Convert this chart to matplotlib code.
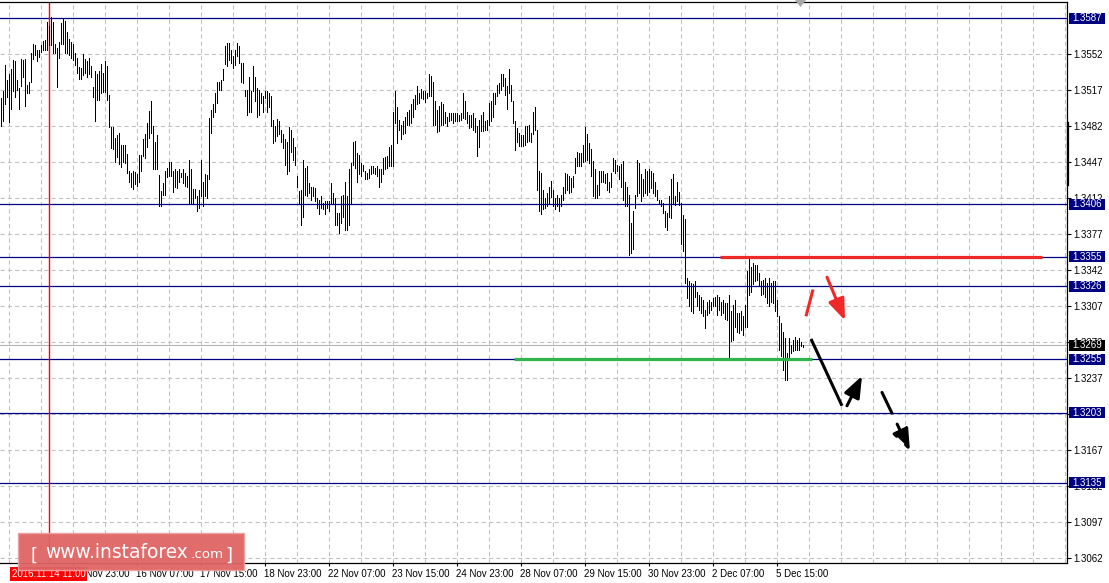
import numpy as np
import matplotlib.pyplot as plt
from matplotlib.patches import Rectangle, FancyArrowPatch, FancyBboxPatch, Polygon
from matplotlib.lines import Line2D
from matplotlib.transforms import blended_transform_factory

plt.rcParams['font.family'] = ['Liberation Sans', 'DejaVu Sans']

# H1 bar highs / lows (oldest first)
highs = [
    1.3509, 1.3516, 1.3541, 1.3527, 1.3533, 1.3537, 1.3546, 1.3545, 1.3527, 1.3519,
    1.3547, 1.3546, 1.3547, 1.3522, 1.3525, 1.3553, 1.3562, 1.3561, 1.3556, 1.3556,
    1.3561, 1.3565, 1.3566, 1.3583, 1.3579, 1.3588, 1.3583, 1.3562, 1.3558, 1.3564,
    1.3582, 1.3586, 1.3584, 1.3573, 1.3567, 1.3564, 1.3562, 1.3553, 1.3548, 1.3539,
    1.3538, 1.3552, 1.3547, 1.3545, 1.3548, 1.3540, 1.3520, 1.3535, 1.3533, 1.3535,
    1.3542, 1.3534, 1.3545, 1.3540, 1.3512, 1.3481, 1.3481, 1.3470, 1.3473, 1.3475,
    1.3464, 1.3464, 1.3464, 1.3455, 1.3438, 1.3436, 1.3438, 1.3437,
    1.3435, 1.3454, 1.3454, 1.3469, 1.3474, 1.3485, 1.3497, 1.3506, 1.3482, 1.3466,
    1.3473, 1.3434, 1.3419, 1.3427, 1.3438, 1.3441, 1.3447, 1.3447, 1.3438, 1.3440,
    1.3438, 1.3440, 1.3436, 1.3440, 1.3436, 1.3433, 1.3449, 1.3440, 1.3421, 1.3421,
    1.3414, 1.3420, 1.3449, 1.3428, 1.3435, 1.3434, 1.3490, 1.3498, 1.3503, 1.3514,
    1.3525, 1.3525, 1.3527, 1.3537, 1.3560, 1.3563, 1.3563, 1.3556, 1.3550, 1.3556,
    1.3563, 1.3560, 1.3543, 1.3543, 1.3517, 1.3517, 1.3530, 1.3516, 1.3540, 1.3530,
    1.3519, 1.3517, 1.3514, 1.3511, 1.3516, 1.3516, 1.3514,
    1.3511, 1.3488, 1.3482, 1.3489, 1.3487, 1.3478, 1.3474, 1.3469, 1.3466, 1.3481,
    1.3478, 1.3470, 1.3462, 1.3433, 1.3419, 1.3420, 1.3449, 1.3441, 1.3443, 1.3427,
    1.3423, 1.3423, 1.3422, 1.3412, 1.3410, 1.3414, 1.3407, 1.3409, 1.3409, 1.3409,
    1.3427, 1.3417, 1.3412, 1.3397, 1.3397, 1.3414, 1.3415, 1.3428, 1.3414, 1.3440,
    1.3446, 1.3466, 1.3467, 1.3456, 1.3454, 1.3446, 1.3444, 1.3438, 1.3436, 1.3440,
    1.3443, 1.3443, 1.3441, 1.3443, 1.3440, 1.3440, 1.3451, 1.3452, 1.3453, 1.3462,
    1.3464, 1.3496, 1.3516, 1.3500, 1.3488, 1.3483, 1.3487,
    1.3491, 1.3496, 1.3498, 1.3503, 1.3508, 1.3512, 1.3521, 1.3514, 1.3518, 1.3516,
    1.3516, 1.3514, 1.3533, 1.3531, 1.3525, 1.3506, 1.3498, 1.3501, 1.3505, 1.3503,
    1.3496, 1.3491, 1.3495, 1.3495, 1.3495, 1.3495, 1.3495, 1.3493, 1.3495, 1.3514,
    1.3506, 1.3496, 1.3493, 1.3493, 1.3495, 1.3490, 1.3482, 1.3488, 1.3493, 1.3496,
    1.3487, 1.3488, 1.3504, 1.3506, 1.3514, 1.3514, 1.3522, 1.3524, 1.3533, 1.3533,
    1.3529, 1.3521, 1.3537, 1.3522, 1.3506, 1.3487, 1.3480, 1.3475, 1.3473, 1.3473,
    1.3482, 1.3482, 1.3483, 1.3475, 1.3496, 1.3500, 1.3478,
    1.3438, 1.3436, 1.3420, 1.3412, 1.3417, 1.3423, 1.3429, 1.3420, 1.3412, 1.3415,
    1.3412, 1.3415, 1.3423, 1.3436, 1.3435, 1.3433, 1.3431, 1.3433, 1.3451, 1.3457,
    1.3456, 1.3456, 1.3464, 1.3481, 1.3474, 1.3465, 1.3460, 1.3448, 1.3440, 1.3425,
    1.3438, 1.3438, 1.3438, 1.3435, 1.3436, 1.3428, 1.3436, 1.3451, 1.3449, 1.3444,
    1.3443, 1.3445, 1.3448, 1.3428, 1.3423, 1.3415, 1.3388, 1.3399, 1.3415, 1.3449,
    1.3446, 1.3435, 1.3430, 1.3440, 1.3438, 1.3440, 1.3438, 1.3436, 1.3428, 1.3420,
    1.3410, 1.3410, 1.3407, 1.3399, 1.3397, 1.3414, 1.3430,
    1.3435, 1.3414, 1.3428, 1.3418, 1.3407, 1.3395, 1.3392, 1.3334, 1.3331, 1.3329,
    1.3328, 1.3331, 1.3321, 1.3318, 1.3316, 1.3313, 1.3303, 1.3311, 1.3313, 1.3311,
    1.3315, 1.3316, 1.3318, 1.3316, 1.3311, 1.3313, 1.3310, 1.3310, 1.3318, 1.3302,
    1.3308, 1.3313, 1.3300, 1.3300, 1.3302, 1.3297, 1.3308, 1.3341, 1.3355, 1.3345,
    1.3349, 1.3347, 1.3347, 1.3339, 1.3331, 1.3332, 1.3334, 1.3329, 1.3334, 1.3329,
    1.3331, 1.3331, 1.3313, 1.3297, 1.3290, 1.3282, 1.3276, 1.3261, 1.3276, 1.3269,
    1.3274, 1.3277, 1.3274, 1.3276, 1.3272, 1.3269,
]
lows = [
    1.3482, 1.3487, 1.3503, 1.3510, 1.3486, 1.3499, 1.3516, 1.3510, 1.3517, 1.3499,
    1.3521, 1.3530, 1.3501, 1.3514, 1.3514, 1.3525, 1.3547, 1.3551, 1.3545, 1.3549,
    1.3554, 1.3556, 1.3556, 1.3556, 1.3561, 1.3561, 1.3553, 1.3553, 1.3520, 1.3548,
    1.3562, 1.3562, 1.3553, 1.3553, 1.3551, 1.3548, 1.3546, 1.3541, 1.3534, 1.3528,
    1.3528, 1.3532, 1.3534, 1.3530, 1.3533, 1.3530, 1.3510, 1.3487, 1.3507, 1.3507,
    1.3514, 1.3515, 1.3515, 1.3507, 1.3481, 1.3461, 1.3460, 1.3447, 1.3452, 1.3445,
    1.3442, 1.3447, 1.3446, 1.3436, 1.3428, 1.3423, 1.3421, 1.3426,
    1.3424, 1.3428, 1.3438, 1.3453, 1.3451, 1.3462, 1.3470, 1.3475, 1.3440, 1.3440,
    1.3440, 1.3404, 1.3404, 1.3415, 1.3415, 1.3432, 1.3433, 1.3433, 1.3418, 1.3423,
    1.3422, 1.3428, 1.3432, 1.3427, 1.3424, 1.3423, 1.3407, 1.3407, 1.3407, 1.3412,
    1.3399, 1.3402, 1.3414, 1.3404, 1.3414, 1.3412, 1.3430, 1.3475, 1.3491, 1.3496,
    1.3504, 1.3517, 1.3517, 1.3527, 1.3542, 1.3540, 1.3546, 1.3543, 1.3538, 1.3541,
    1.3550, 1.3543, 1.3525, 1.3524, 1.3511, 1.3493, 1.3496, 1.3496, 1.3516, 1.3506,
    1.3491, 1.3493, 1.3504, 1.3496, 1.3509, 1.3496, 1.3500,
    1.3482, 1.3465, 1.3467, 1.3472, 1.3474, 1.3466, 1.3461, 1.3444, 1.3435, 1.3438,
    1.3457, 1.3449, 1.3444, 1.3423, 1.3407, 1.3386, 1.3394, 1.3415, 1.3414, 1.3417,
    1.3410, 1.3414, 1.3409, 1.3402, 1.3396, 1.3402, 1.3401, 1.3396, 1.3402, 1.3399,
    1.3406, 1.3406, 1.3386, 1.3386, 1.3378, 1.3388, 1.3394, 1.3381, 1.3381, 1.3386,
    1.3406, 1.3444, 1.3441, 1.3428, 1.3435, 1.3433, 1.3438, 1.3430, 1.3430, 1.3431,
    1.3435, 1.3436, 1.3435, 1.3433, 1.3423, 1.3428, 1.3435, 1.3440, 1.3441, 1.3443,
    1.3443, 1.3443, 1.3485, 1.3465, 1.3478, 1.3469, 1.3474,
    1.3475, 1.3483, 1.3483, 1.3485, 1.3491, 1.3499, 1.3503, 1.3504, 1.3509, 1.3508,
    1.3505, 1.3509, 1.3511, 1.3511, 1.3483, 1.3483, 1.3476, 1.3477, 1.3483, 1.3483,
    1.3485, 1.3482, 1.3487, 1.3488, 1.3485, 1.3487, 1.3487, 1.3487, 1.3488, 1.3490,
    1.3489, 1.3485, 1.3480, 1.3481, 1.3478, 1.3476, 1.3453, 1.3462, 1.3477, 1.3477,
    1.3478, 1.3478, 1.3483, 1.3487, 1.3491, 1.3503, 1.3511, 1.3514, 1.3517, 1.3521,
    1.3512, 1.3499, 1.3514, 1.3506, 1.3485, 1.3459, 1.3466, 1.3463, 1.3463, 1.3463,
    1.3464, 1.3466, 1.3467, 1.3466, 1.3474, 1.3478, 1.3420,
    1.3399, 1.3396, 1.3401, 1.3402, 1.3404, 1.3407, 1.3413, 1.3404, 1.3401, 1.3404,
    1.3399, 1.3404, 1.3410, 1.3417, 1.3420, 1.3417, 1.3418, 1.3423, 1.3436, 1.3443,
    1.3443, 1.3443, 1.3447, 1.3448, 1.3449, 1.3446, 1.3433, 1.3414, 1.3412, 1.3412,
    1.3415, 1.3428, 1.3428, 1.3427, 1.3420, 1.3418, 1.3423, 1.3438, 1.3436, 1.3438,
    1.3430, 1.3423, 1.3410, 1.3404, 1.3404, 1.3357, 1.3359, 1.3362, 1.3402, 1.3414,
    1.3417, 1.3409, 1.3414, 1.3417, 1.3415, 1.3418, 1.3422, 1.3417, 1.3414, 1.3410,
    1.3406, 1.3404, 1.3397, 1.3384, 1.3381, 1.3394, 1.3393,
    1.3407, 1.3405, 1.3409, 1.3405, 1.3367, 1.3360, 1.3329, 1.3315, 1.3307, 1.3302,
    1.3300, 1.3316, 1.3307, 1.3303, 1.3300, 1.3297, 1.3286, 1.3298, 1.3300, 1.3303,
    1.3307, 1.3307, 1.3298, 1.3303, 1.3298, 1.3300, 1.3294, 1.3293, 1.3255, 1.3273,
    1.3274, 1.3287, 1.3282, 1.3281, 1.3284, 1.3279, 1.3287, 1.3287, 1.3318, 1.3321,
    1.3328, 1.3331, 1.3332, 1.3326, 1.3318, 1.3319, 1.3316, 1.3310, 1.3307, 1.3311,
    1.3310, 1.3302, 1.3297, 1.3264, 1.3258, 1.3245, 1.3235, 1.3235, 1.3255, 1.3261,
    1.3263, 1.3264, 1.3264, 1.3264, 1.3268, 1.3267,
]

levels = [1.3587, 1.3406, 1.3355, 1.3326, 1.3255, 1.3203, 1.3135]
bid = 1.3269
price_ticks = [1.3552, 1.3517, 1.3482, 1.3447, 1.3412, 1.3377, 1.3342, 1.3307,
               1.3272, 1.3237, 1.3202, 1.3167, 1.3132, 1.3097, 1.3062]
time_bars = [36, 68, 100, 132, 164, 196, 228, 260, 292, 324, 356, 388]
time_labels = ["14 Nov 23:00", "16 Nov 07:00", "17 Nov 15:00", "18 Nov 23:00",
               "22 Nov 07:00", "23 Nov 15:00", "24 Nov 23:00", "28 Nov 07:00",
               "29 Nov 15:00", "30 Nov 23:00", "2 Dec 07:00", "5 Dec 15:00"]
marker_bar = 24
marker_label = "2016.11.14 11:00"

# drawn objects: [x0, x1, price] and [x0, p0, x1, p1]
resistance = [359.75, 520.75, 1.3355]
support = [256.75, 405.75, 1.3255]
red_stroke = [402.75, 1.3297, 406.25, 1.3323]
red_arrow = [413.25, 1.3335, 422.25, 1.3293]
black_stroke = [405.25, 1.3275, 420.75, 1.3210]
black_arrow = [423.25, 1.3210, 430.75, 1.3239]
dash_arrow = [440.75, 1.3223, 454.75, 1.3166]

W, H = 1109, 583
fig = plt.figure(figsize=(W / 100, H / 100), dpi=100)
ax = fig.add_axes([0, 20 / H, 1067 / W, 561 / H])
ax.set_xlim(-0.25, 533.25)
ax.set_ylim(1.305714, 1.360256)
py = (1.360256 - 1.305714) / 561

# grid
for p in price_ticks + [1.3587]:
    ax.axhline(p, color='#c0c0c0', lw=0.75, ls=(0, (4, 3)), zorder=0.5)
for b in range(4, 534, 16):
    ax.axvline(b, color='#c0c0c0', lw=0.75, ls=(0, (4, 3)), zorder=0.5)

# bars
x = np.arange(len(highs))
ax.vlines(x, lows, highs, color='black', lw=0.7, antialiased=False, zorder=2)

for lv in levels:
    ax.axhline(lv, color='#000080', lw=0.9, zorder=1)
ax.axhline(bid, color='#b4b4b4', lw=0.8, zorder=1)
ax.axvline(marker_bar, color='red', lw=1, zorder=1.5)

# support / resistance and arrows
ax.plot(resistance[:2], [resistance[2]] * 2, color='#f02828', lw=2.3,
        solid_capstyle='butt', zorder=3)
ax.plot(support[:2], [support[2]] * 2, color='#2fb34a', lw=2.3,
        solid_capstyle='butt', zorder=3)
ax.plot(red_stroke[::2], red_stroke[1::2], color='#f02828', lw=2.2,
        solid_capstyle='butt', zorder=4)
ax.plot(black_stroke[::2], black_stroke[1::2], color='black', lw=2.2,
        solid_capstyle='butt', zorder=4)
for seg, col, ls in [(red_arrow, '#f02828', '-'), (black_arrow, 'black', '-'),
                     (dash_arrow, 'black', (0, (7.5, 4)))]:
    ax.add_patch(FancyArrowPatch((seg[0], seg[1]), (seg[2], seg[3]),
                                 arrowstyle='-|>,head_length=1.3,head_width=0.5',
                                 mutation_scale=10, lw=2.2, color=col, ls=ls,
                                 shrinkA=0, shrinkB=0, zorder=4))

# axes styling
ax.spines['left'].set_visible(False)
for s in ['top', 'right', 'bottom']:
    ax.spines[s].set_linewidth(0.9)
ax.yaxis.tick_right()
ax.set_yticks(price_ticks, [f'{p:.4f}' for p in price_ticks])
ax.set_xticks(time_bars, time_labels)
for t in ax.get_xticklabels():
    t.set_ha('left')
ax.tick_params(axis='y', direction='out', length=3, width=0.8, pad=1.5, labelsize=7)
ax.tick_params(axis='x', direction='out', length=2.2, width=0.8, pad=2, labelsize=7)

# price labels on the axis
tr = blended_transform_factory(ax.transAxes, ax.transData)
for lv, fc in [(l, '#000080') for l in levels] + [(bid, 'black')]:
    ax.add_patch(Rectangle((1 + 2 / 1067, lv - 5.5 * py), 36 / 1067, 11 * py,
                           transform=tr, fc=fc, ec='none', clip_on=False, zorder=5))
    ax.text(1 + 5 / 1067, lv, f'{lv:.4f}', transform=tr, color='white',
            fontsize=7, va='center', ha='left', zorder=6, clip_on=False)

# time marker label
trx = blended_transform_factory(ax.transData, ax.transAxes)
ax.text(marker_bar, -11 / 561, marker_label, transform=trx, color='white',
        fontsize=7, ha='center', va='center', zorder=6, clip_on=False,
        bbox=dict(boxstyle='square,pad=0.2', fc='red', ec='none'))

# chart-shift marker and scroll block
fig.add_artist(Polygon([(795 / W, 1), (806 / W, 1), (800.5 / W, 1 - 7 / H)],
                       closed=True, fc='#a8a8a8', ec='none', transform=fig.transFigure))
fig.add_artist(Line2D([1067.7 / W] * 2, [1 - 123 / H, 1 - 185 / H], lw=1.6,
                      color='black', transform=fig.transFigure))

# watermark
fig.add_artist(FancyBboxPatch((17.5 / W, 1 - 570 / H), 226 / W, 37 / H,
                              boxstyle='square,pad=0', fc='#df6464', ec='#eca0a0',
                              lw=1, alpha=0.95, transform=fig.transFigure, zorder=5))
wm = dict(color='white', family='DejaVu Sans', va='baseline', zorder=6)
fig.text(30 / W, 1 - 561 / H, '[', fontsize=13, **wm)
fig.text(45.5 / W, 1 - 558 / H, 'www.instaforex', fontsize=13.4, **wm)
fig.text(191 / W, 1 - 558 / H, '.com', fontsize=9.7, **wm)
fig.text(225 / W, 1 - 561 / H, ']', fontsize=13, **wm)

fig.savefig('out.png', dpi=100)
